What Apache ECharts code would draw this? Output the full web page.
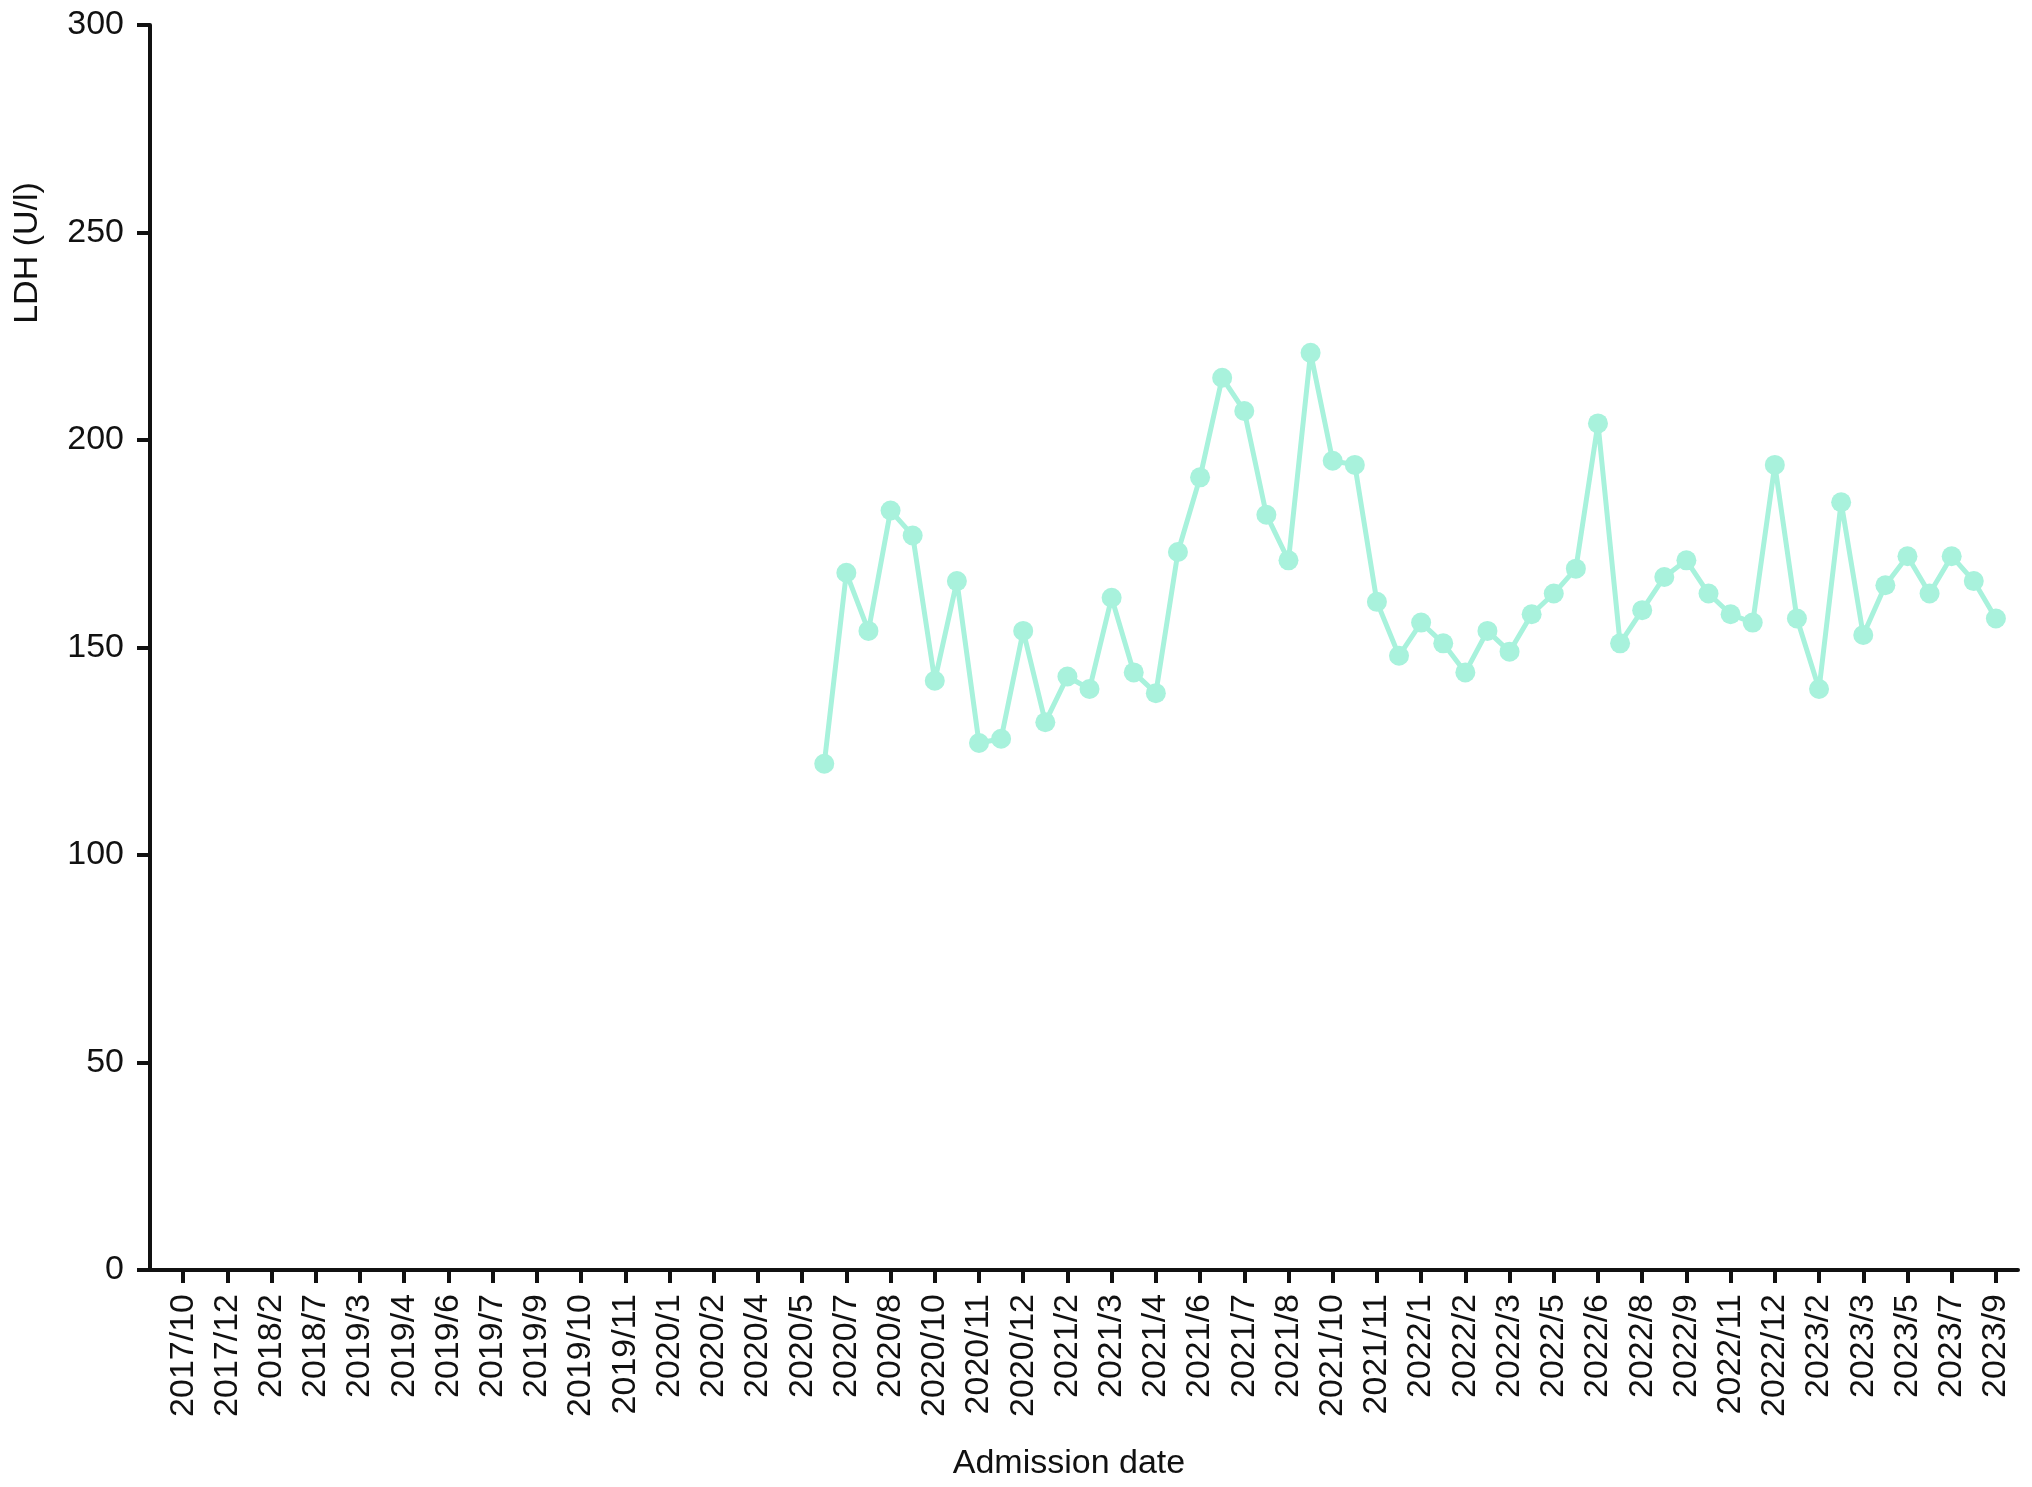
<!DOCTYPE html>
<html style="height: 100%">
    <head>
        <meta charset="utf-8">
        <title>LDH by admission date</title>
        <script type="text/javascript" src="https://cdn.jsdelivr.net/npm/echarts@6/dist/echarts.min.js"></script>
    </head>
    <body style="margin:0;height:100%;background:#fff">
        <div id="container" style="width:2032px;height:1487px"></div>

        <script type="text/javascript">
        // tick labels, shown on every second slot (slot 0, 2, 4 ... 82)
        var tickLabels = ['2017/10', '2017/12', '2018/2', '2018/7', '2019/3', '2019/4', '2019/6',
            '2019/7', '2019/9', '2019/10', '2019/11', '2020/1', '2020/2', '2020/4', '2020/5',
            '2020/7', '2020/8', '2020/10', '2020/11', '2020/12', '2021/2', '2021/3', '2021/4',
            '2021/6', '2021/7', '2021/8', '2021/10', '2021/11', '2022/1', '2022/2', '2022/3',
            '2022/5', '2022/6', '2022/8', '2022/9', '2022/11', '2022/12', '2023/2', '2023/3',
            '2023/5', '2023/7', '2023/9'];

        // LDH (U/l), one value per slot, starting at slot 29
        var firstSlot = 29;
        var ldh = [122, 168, 154, 183, 177, 142, 166, 127, 128, 154,
            132, 143, 140, 162, 144, 139, 173, 191, 215, 207,
            182, 171, 221, 195, 194, 161, 148, 156, 151, 144,
            154, 149, 158, 163, 169, 204, 151, 159, 167, 171,
            163, 158, 156, 194, 157, 140, 185, 153, 165, 172,
            163, 172, 166, 157];

        var tickSlots = tickLabels.map(function (item, i) {
            return i * 2;
        });

        var font = 'Liberation Sans';
        var chartDom = document.getElementById('container');
        var myChart = echarts.init(chartDom);
        var option;

        option = {
            animation: false,
            grid: {
                left: 150,
                right: 14,
                top: 25,
                bottom: 217,
                containLabel: false
            },
            xAxis: {
                type: 'value',
                min: -1.5,
                max: 83,
                name: 'Admission date',
                nameLocation: 'middle',
                nameGap: 177,
                nameTextStyle: {
                    fontFamily: font,
                    fontSize: 34,
                    color: '#111',
                    padding: [0, 30, 0, 0]
                },
                splitLine: { show: false },
                axisLine: {
                    onZero: false,
                    lineStyle: { color: '#111', width: 4 }
                },
                axisTick: {
                    customValues: tickSlots,
                    length: 13,
                    lineStyle: { color: '#111', width: 4 }
                },
                axisLabel: {
                    customValues: tickSlots,
                    rotate: 90,
                    margin: 24,
                    fontFamily: font,
                    fontSize: 34,
                    color: '#111',
                    formatter: function (value) {
                        return tickLabels[Math.round(value / 2)] || '';
                    }
                }
            },
            yAxis: {
                type: 'value',
                min: 0,
                max: 300,
                interval: 50,
                splitLine: { show: false },
                axisLine: {
                    show: true,
                    onZero: false,
                    lineStyle: { color: '#111', width: 4 }
                },
                axisTick: {
                    show: true,
                    length: 13,
                    lineStyle: { color: '#111', width: 4 }
                },
                axisLabel: {
                    margin: 26,
                    fontFamily: font,
                    fontSize: 34,
                    color: '#111'
                }
            },
            graphic: [{
                type: 'text',
                x: 28,
                y: 253,
                rotation: Math.PI / 2,
                style: {
                    text: 'LDH (U/l)',
                    fontFamily: font,
                    fontSize: 34,
                    fill: '#111',
                    align: 'center',
                    verticalAlign: 'middle'
                }
            }],
            series: [{
                name: 'LDH',
                type: 'line',
                data: ldh.map(function (v, i) {
                    return [firstSlot + i, v];
                }),
                symbol: 'circle',
                symbolSize: 20,
                lineStyle: { color: '#a8f2dc', width: 5 },
                itemStyle: { color: '#a8f2dc' }
            }]
        };

        option && myChart.setOption(option);
        </script>
    </body>
</html>
